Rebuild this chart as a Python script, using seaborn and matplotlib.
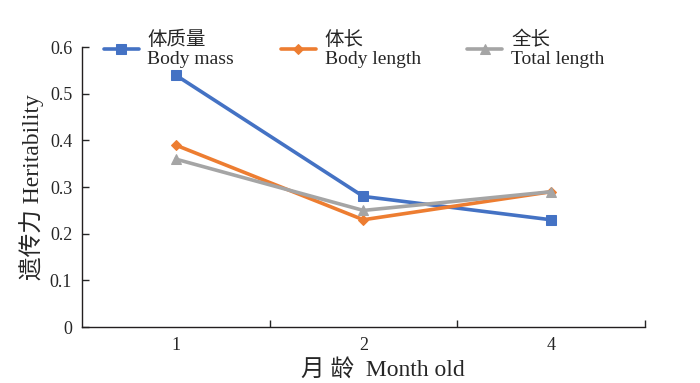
import pandas as pd
import seaborn as sns
import matplotlib.pyplot as plt
from matplotlib.ticker import FixedLocator

sns.set_style('white')
plt.rcParams['font.family'] = ['Liberation Serif', 'Noto Sans CJK SC']

# Data
months = ['1', '2', '4']
body_mass = [0.54, 0.28, 0.23]
body_length = [0.39, 0.23, 0.29]
total_length = [0.36, 0.25, 0.29]

series = [
    ('体质量\nBody mass', body_mass, '#4472C4', 's', 7),
    ('体长\nBody length', body_length, '#ED7D31', 'D', 5),
    ('全长\nTotal length', total_length, '#A5A5A5', '^', 7),
]

fig = plt.figure(figsize=(7, 3.83), dpi=100)
ax = fig.add_axes([0.117, 0.146, 0.804, 0.731])

pos = list(range(len(months)))
for name, vals, col, mk, ms in series:
    dfPlot = pd.DataFrame({'x': pos, 'y': vals})
    sns.lineplot(data=dfPlot, x='x', y='y', ax=ax, color=col, marker=mk,
                 markersize=ms, markeredgecolor=col, linewidth=2.6, label=name)

# Format axes
ax.set_xlim(-0.5, len(months) - 0.5)
ax.set_ylim(0, 0.6)
ax.set_yticks([0, 0.1, 0.2, 0.3, 0.4, 0.5, 0.6])
ax.set_yticklabels(['0', '0.1', '0.2', '0.3', '0.4', '0.5', '0.6'])
ax.xaxis.set_major_locator(FixedLocator([0.5, 1.5, 2.5]))
ax.set_xticklabels([])
ax.xaxis.set_minor_locator(FixedLocator(pos))
ax.set_xticklabels(months, minor=True)
ax.tick_params(axis='x', which='major', direction='in', length=5, width=1, bottom=True)
ax.tick_params(axis='x', which='minor', length=0, pad=7, labelsize=13)
ax.tick_params(axis='y', direction='in', length=5, width=1, left=True, labelsize=13, pad=7)

for s in ['top', 'right']:
    ax.spines[s].set_visible(False)
for s in ['left', 'bottom']:
    ax.spines[s].set_color('#231F20')
    ax.spines[s].set_linewidth(1)

ax.set_xlabel('月 龄  Month old', fontsize=17, labelpad=4)
ax.xaxis.label.set_x(0.535)
ax.set_ylabel('遗传力 Heritability', fontsize=17, labelpad=4)

ax.legend(loc='upper left', bbox_to_anchor=(0.148, 0.92), bbox_transform=fig.transFigure,
          ncol=3, frameon=False, fontsize=14, handlelength=1.8, columnspacing=2.4,
          handletextpad=0.45, borderpad=0, borderaxespad=0, labelspacing=0)

plt.savefig('out.png', dpi=100)
